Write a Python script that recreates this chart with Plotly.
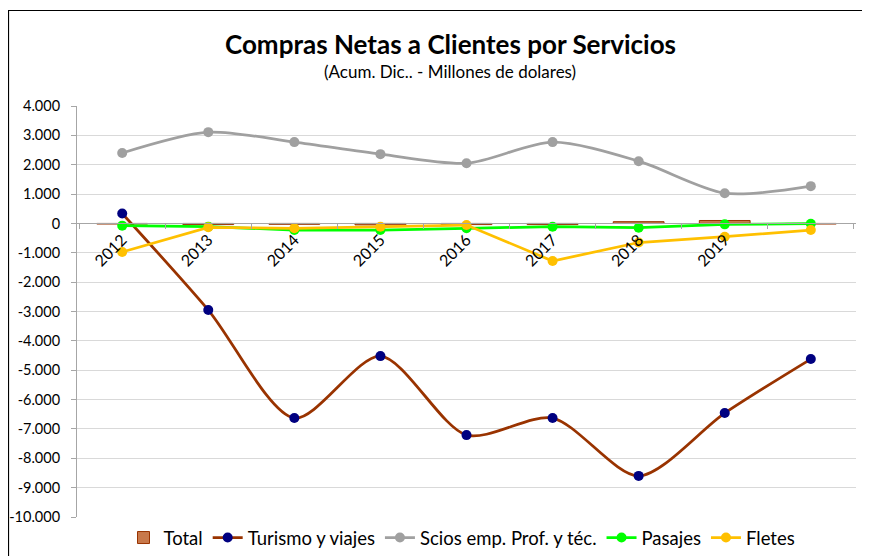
import plotly.graph_objects as go

categories = ["2012", "2013", "2014", "2015", "2016", "2017", "2018", "2019", "2020"]
x_labels = ["2012", "2013", "2014", "2015", "2016", "2017", "2018", "2019", ""]

total = [-20, -40, -30, -50, -40, -40, 60, 100, -20]
turismo = [340, -2950, -6630, -4520, -7210, -6630, -8600, -6460, -4620]
scios = [2400, 3110, 2770, 2360, 2050, 2770, 2120, 1030, 1270]
pasajes = [-75, -110, -225, -225, -165, -112, -146, -31, -10]
fletes = [-975, -133, -167, -112, -54, -1280, -650, -453, -225]

y_tickvals = [4000, 3000, 2000, 1000, 0, -1000, -2000, -3000, -4000, -5000,
              -6000, -7000, -8000, -9000, -10000]
y_ticktext = ["4.000", "3.000", "2.000", "1.000", "0", "-1.000", "-2.000", "-3.000",
              "-4.000", "-5.000", "-6.000", "-7.000", "-8.000", "-9.000", "-10.000"]

FONT = "Lato"

fig = go.Figure()
fig.add_trace(go.Bar(
    x=categories, y=total, name="Total",
    marker=dict(color="#C8784A", line=dict(color="#993300", width=1)),
))
fig.add_trace(go.Scatter(
    x=categories, y=turismo, name="Turismo y viajes", mode="lines+markers",
    line=dict(color="#993300", width=2.75, shape="spline", smoothing=0.8),
    marker=dict(color="#000080", size=10),
))
fig.add_trace(go.Scatter(
    x=categories, y=scios, name="Scios emp. Prof. y téc.", mode="lines+markers",
    line=dict(color="#A0A0A0", width=2.75, shape="spline", smoothing=0.8),
    marker=dict(color="#A0A0A0", size=10),
))
fig.add_trace(go.Scatter(
    x=categories, y=pasajes, name="Pasajes", mode="lines+markers",
    line=dict(color="#00FF00", width=2.75),
    marker=dict(color="#00FF00", size=10),
))
fig.add_trace(go.Scatter(
    x=categories, y=fletes, name="Fletes", mode="lines+markers",
    line=dict(color="#FFC000", width=2.75),
    marker=dict(color="#FFC000", size=10),
))

# The page body adds an 8px offset, so the figure is 8px smaller and coordinates are ref-8.
OFF = 8
W, H = 870 - OFF, 556 - OFF
ml, mt = 77 - OFF, 106 - OFF
mr = W - (856 - OFF)
mb = H - (517 - OFF)
pw, ph = W - ml - mr, H - mt - mb

def px_x(p):
    return (p - OFF - ml) / pw

def px_y(p):
    return (H - mb - (p - OFF)) / ph

zero_pos = (0 - (-10000)) / 14000.0

fig.update_layout(
    width=W, height=H,
    margin=dict(l=ml, r=mr, t=mt, b=mb, autoexpand=False),
    paper_bgcolor="white", plot_bgcolor="white",
    font=dict(family=FONT, color="#000000", size=14),
    bargap=0.41,
    showlegend=True,
    legend=dict(orientation="h", x=px_x(462), xanchor="center", y=px_y(538), yanchor="middle",
                font=dict(size=18.5, family=FONT), traceorder="normal",
                tracegroupgap=0),
    xaxis=dict(
        type="category", tickmode="array", tickvals=categories, ticktext=x_labels,
        tickangle=-45, anchor="free", position=zero_pos,
        showline=True, linecolor="#A6A6A6", linewidth=1,
        ticks="outside", ticklen=5, tickcolor="#A6A6A6", tickson="boundaries",
        showgrid=False, zeroline=False, tickfont=dict(size=16, family=FONT),
        automargin=False,
    ),
    yaxis=dict(
        range=[-10000, 4000], tickmode="array", tickvals=y_tickvals, ticktext=y_ticktext,
        showline=True, linecolor="#A6A6A6", linewidth=1,
        ticks="outside", ticklen=5, tickcolor="#A6A6A6",
        showgrid=True, gridcolor="#D9D9D9", gridwidth=1,
        zeroline=False, tickfont=dict(size=14.5, family=FONT), ticklabelstandoff=8,
        automargin=False,
    ),
    annotations=[
        dict(text="<b>Compras Netas a Clientes por Servicios</b>", xref="paper", yref="paper",
             x=px_x(450), y=px_y(44), xanchor="center", yanchor="middle", showarrow=False,
             font=dict(size=26, family=FONT)),
        dict(text="(Acum. Dic.. - Millones de dolares)", xref="paper", yref="paper",
             x=px_x(450), y=px_y(71), xanchor="center", yanchor="middle", showarrow=False,
             font=dict(size=17, family=FONT)),
    ],
    shapes=[
        dict(type="rect", xref="paper", yref="paper",
             x0=px_x(8.5), x1=px_x(866.5), y0=px_y(575), y1=px_y(10.5),
             line=dict(color="#000000", width=1.2), fillcolor="rgba(0,0,0,0)", layer="below"),
    ],
)

fig.write_html("out.html")
